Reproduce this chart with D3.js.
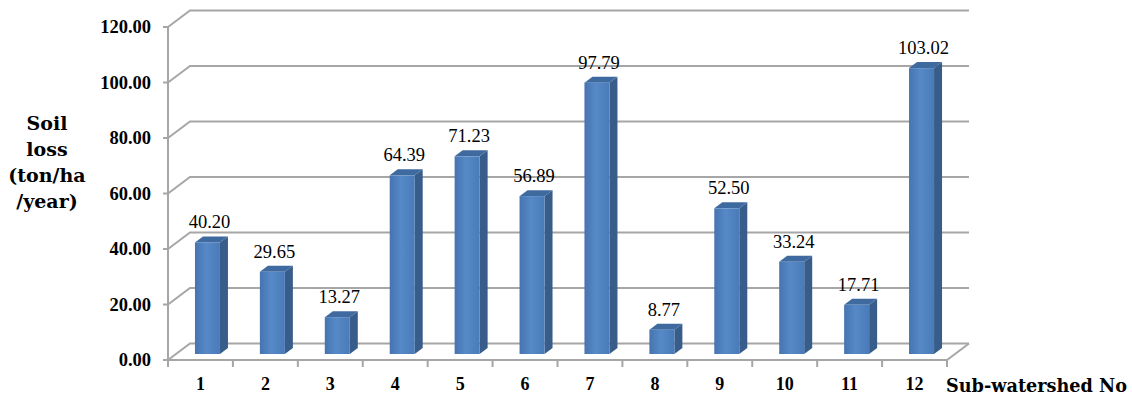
<!DOCTYPE html>
<html>
<head>
<meta charset="utf-8">
<script src="https://cdn.jsdelivr.net/npm/d3@7"></script>
<style>
  body { margin: 0; background: #fff; }
  .grid { stroke: #a6a6a6; stroke-width: 2; fill: none; }
  .tick-label { font-family: 'Liberation Serif', serif; font-weight: bold; font-size: 18.5px; fill: #000; }
  .value-label { font-family: 'Liberation Serif', serif; font-size: 18.5px; fill: #000; }
  .title { font-family: 'DejaVu Serif', serif; font-weight: bold; fill: #000; }
</style>
</head>
<body>
<svg class="chart" width="1132" height="410"></svg>
<script>
const categories = ['1', '2', '3', '4', '5', '6', '7', '8', '9', '10', '11', '12'];
const soilLoss = [40.20, 29.65, 13.27, 64.39, 71.23, 56.89, 97.79, 8.77, 52.50, 33.24, 17.71, 103.02];
const yTicks = [0, 20, 40, 60, 80, 100, 120];
const yTitleLines = ['Soil', 'loss', '(ton/ha', '/year)'];

const wallDepth = { dx: 22, dy: -16.5 };
const barShift = { dx: 7, dy: -6 };
const barDepth = { dx: 8, dy: -6 };
const barWidth = 25;

const svg = d3.select('.chart');
const xScale = d3.scaleBand().domain(categories).range([168, 947]);
const yScale = d3.scaleLinear().domain([0, 120]).range([360, 27]);
const floorY = yScale(0);
const xLeft = xScale.range()[0];
const xRight = xScale.range()[1];

const frontGrad = svg.append('defs').append('linearGradient').attr('id', 'barFront');
[['0%', '#4674b0'], ['45%', '#5689c7'], ['100%', '#4a7bb9']].forEach(([offset, color]) => {
  frontGrad.append('stop').attr('offset', offset).attr('stop-color', color);
});

// gridlines on the back wall + left wall diagonals
yTicks.forEach((tick) => {
  const y = yScale(tick);
  svg.append('path')
    .classed('grid', true)
    .attr('d', `M${xLeft},${y} L${xLeft + wallDepth.dx},${y + wallDepth.dy} L${xRight + wallDepth.dx},${y + wallDepth.dy}`);
  svg.append('line')
    .classed('grid', true)
    .attr('x1', xLeft - 5).attr('x2', xLeft).attr('y1', y).attr('y2', y);
});

// vertical axis and floor
svg.append('line').classed('grid', true)
  .attr('x1', xLeft).attr('x2', xLeft).attr('y1', yScale(120)).attr('y2', floorY + 1);
svg.append('path').classed('grid', true)
  .attr('d', `M${xLeft},${floorY} L${xRight},${floorY} L${xRight + wallDepth.dx},${floorY + wallDepth.dy}`);

// category ticks
categories.concat(['end']).forEach((c, i) => {
  const x = i < categories.length ? xScale(c) : xRight;
  svg.append('line').classed('grid', true)
    .attr('x1', x).attr('x2', x).attr('y1', floorY).attr('y2', floorY + 7);
});

// y tick labels
svg.selectAll('.y-label')
  .data(yTicks)
  .enter()
  .append('text')
  .classed('tick-label', true)
  .attr('x', 151)
  .attr('y', (d) => yScale(d) + 6)
  .attr('text-anchor', 'end')
  .text((d) => d.toFixed(2));

// x tick labels
svg.selectAll('.x-label')
  .data(categories)
  .enter()
  .append('text')
  .classed('tick-label', true)
  .attr('x', (d) => xScale(d) + xScale.bandwidth() / 2)
  .attr('y', 390)
  .attr('text-anchor', 'middle')
  .style('font-size', '18px')
  .text((d) => d);

// bars
const bars = svg.selectAll('.bar')
  .data(categories.map((c, i) => ({ c, v: soilLoss[i] })))
  .enter()
  .append('g')
  .classed('bar', true);

const barGeom = ({ c, v }) => {
  const x0 = xScale(c) + (xScale.bandwidth() - barWidth) / 2 + barShift.dx;
  const x1 = x0 + barWidth;
  const yb = floorY + barShift.dy;
  const yt = yScale(v) + barShift.dy;
  return { x0, x1, yb, yt };
};

bars.append('path')
  .attr('fill', '#385d8a')
  .attr('d', (d) => {
    const { x1, yb, yt } = barGeom(d);
    return `M${x1},${yb} L${x1 + barDepth.dx},${yb + barDepth.dy} L${x1 + barDepth.dx},${yt + barDepth.dy} L${x1},${yt} Z`;
  });

bars.append('path')
  .attr('fill', '#3f6a9f')
  .attr('d', (d) => {
    const { x0, x1, yt } = barGeom(d);
    return `M${x0},${yt} L${x1},${yt} L${x1 + barDepth.dx},${yt + barDepth.dy} L${x0 + barDepth.dx},${yt + barDepth.dy} Z`;
  });

bars.append('rect')
  .attr('fill', 'url(#barFront)')
  .attr('x', (d) => barGeom(d).x0)
  .attr('y', (d) => barGeom(d).yt)
  .attr('width', barWidth)
  .attr('height', (d) => barGeom(d).yb - barGeom(d).yt);

bars.append('text')
  .classed('value-label', true)
  .attr('x', (d) => barGeom(d).x0 + barWidth / 2 + 2)
  .attr('y', (d) => barGeom(d).yt - 14)
  .attr('text-anchor', 'middle')
  .text((d) => d.v.toFixed(2));

// axis titles
svg.append('text')
  .classed('title', true)
  .attr('x', 946)
  .attr('y', 392)
  .attr('textLength', 181)
  .attr('lengthAdjust', 'spacingAndGlyphs')
  .style('font-size', '18px')
  .text('Sub-watershed No');

svg.append('text')
  .classed('title', true)
  .attr('text-anchor', 'middle')
  .style('font-size', '19px')
  .selectAll('tspan')
  .data(yTitleLines)
  .enter()
  .append('tspan')
  .attr('x', 47)
  .attr('y', (d, i) => 130 + i * 26)
  .text((d) => d);
</script>
</body>
</html>
